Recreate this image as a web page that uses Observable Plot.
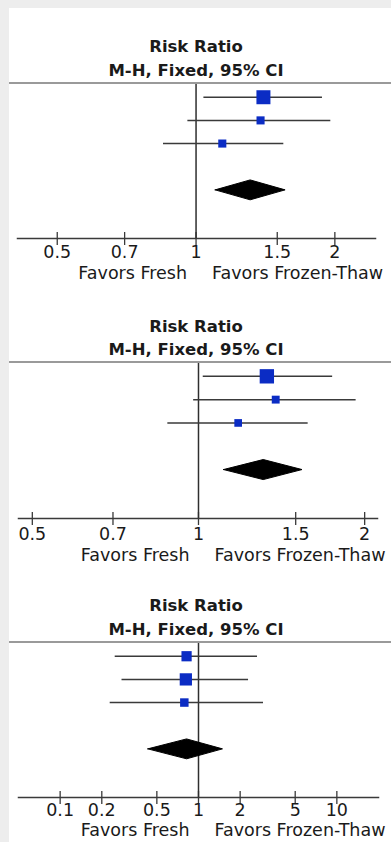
<!DOCTYPE html>
<html>
<head>
<meta charset="utf-8">
<script src="https://cdn.jsdelivr.net/npm/d3@7"></script>
<script src="https://cdn.jsdelivr.net/npm/@observablehq/plot@0.6"></script>
<style>
  html, body { margin: 0; padding: 0; }
  body { width: 391px; height: 842px; background: #ededed; position: relative; overflow: hidden; font-family: "DejaVu Sans", sans-serif; }
  #page { position: absolute; left: 9px; top: 8px; width: 382px; height: 834px; background: #fff; }
  .title { position: absolute; left: 9px; width: 374px; text-align: center; font-weight: bold; font-size: 16.5px; color: #1a1a1a; white-space: nowrap; }
  .rule { position: absolute; left: 9px; width: 382px; height: 2px; background: #9a9a9a; }
  .plot { position: absolute; left: 9px; }
  .plot svg { overflow: visible; }
</style>
</head>
<body>
<div id="page"></div>
<script>
// ---------- data ----------
const rows = [1, 2, 3];
const pooledRow = 5;

const titleLine1 = "Risk Ratio";
const titleLine2 = "M-H, Fixed, 95% CI";
const favorsLeft = "Favors Fresh";
const favorsRight = "Favors Frozen-Thaw";

// Panel 1
const p1Est = [1.40, 1.38, 1.14];
const p1Lo = [1.04, 0.96, 0.85];
const p1Hi = [1.88, 1.96, 1.55];
const p1Weight = [60, 20, 20];
const p1Pooled = [1.10, 1.31, 1.56]; // lo, est, hi
const p1Ticks = [0.5, 0.7, 1, 1.5, 2];
const p1Domain = [0.41, 2.45];

// Panel 2
const p2Est = [1.33, 1.38, 1.18];
const p2Lo = [1.02, 0.98, 0.88];
const p2Hi = [1.75, 1.93, 1.58];
const p2Weight = [63, 19, 18];
const p2Pooled = [1.11, 1.31, 1.54];
const p2Ticks = [0.5, 0.7, 1, 1.5, 2];
const p2Domain = [0.472, 2.11];

// Panel 3
const p3Est = [0.82, 0.81, 0.79];
const p3Lo = [0.25, 0.28, 0.23];
const p3Hi = [2.67, 2.30, 2.95];
const p3Weight = [32, 46, 22];
const p3Pooled = [0.43, 0.82, 1.49];
const p3Ticks = [0.1, 0.2, 0.5, 1, 2, 5, 10];
const p3Domain = [0.05, 20];

// ---------- drawing ----------
const panels = [
  {est: p1Est, lo: p1Lo, hi: p1Hi, w: p1Weight, pooled: p1Pooled, ticks: p1Ticks, domain: p1Domain,
   titleTop: 35, lineH: 24, ruleTop: 82, svgTop: 84, frameH: 154, mL: 8, mR: 16, tickDy: 14, favDy: 35},
  {est: p2Est, lo: p2Lo, hi: p2Hi, w: p2Weight, pooled: p2Pooled, ticks: p2Ticks, domain: p2Domain,
   titleTop: 315, lineH: 23, ruleTop: 361, svgTop: 363, frameH: 155, mL: 9, mR: 14, tickDy: 16, favDy: 37},
  {est: p3Est, lo: p3Lo, hi: p3Hi, w: p3Weight, pooled: p3Pooled, ticks: p3Ticks, domain: p3Domain,
   titleTop: 594, lineH: 24, ruleTop: 641, svgTop: 643, frameH: 154, mL: 9, mR: 13, tickDy: 13, favDy: 33}
];

const ink = "#1a1a1a";
const lineInk = "#3a3a3a";
const blue = "#0b2cc4";
const marginBottom = 52;
const diamondHalf = 0.43; // in row units
const fs = 17.5;

panels.forEach(p => {
  const t = document.createElement("div");
  t.className = "title";
  t.style.top = p.titleTop + "px";
  t.style.lineHeight = p.lineH + "px";
  t.innerHTML = `<div>${titleLine1}</div><div>${titleLine2}</div>`;
  document.body.appendChild(t);

  const r = document.createElement("div");
  r.className = "rule";
  r.style.top = p.ruleTop + "px";
  document.body.appendChild(r);

  const studies = rows.map((row, i) => ({row, est: p.est[i], lo: p.lo[i], hi: p.hi[i], w: p.w[i]}));
  const [plo, pest, phi] = p.pooled;
  const diamond = [
    {x: plo, y: pooledRow},
    {x: pest, y: pooledRow - diamondHalf},
    {x: phi, y: pooledRow},
    {x: pest, y: pooledRow + diamondHalf},
    {x: plo, y: pooledRow}
  ];

  const chart = Plot.plot({
    width: 382,
    height: p.frameH + marginBottom,
    marginTop: 0,
    marginBottom,
    marginLeft: p.mL,
    marginRight: p.mR,
    style: {fontFamily: "DejaVu Sans, sans-serif", background: "transparent", overflow: "visible"},
    x: {type: "log", domain: p.domain, axis: null},
    y: {domain: [0.45, 7.1], reverse: true, axis: null},
    r: {type: "sqrt", domain: [0, 100], range: [0, 10.2]},
    marks: [
      Plot.frame({anchor: "bottom", stroke: lineInk, strokeWidth: 1.5}),
      Plot.ruleX(p.ticks, {x: d => d, insetTop: p.frameH - 6, insetBottom: -7, stroke: lineInk, strokeWidth: 1.3}),
      Plot.ruleX([1], {stroke: "#2e2e2e", strokeWidth: 1.5}),
      Plot.ruleY(studies, {y: "row", x1: "lo", x2: "hi", stroke: lineInk, strokeWidth: 1.5}),
      Plot.dot(studies, {x: "est", y: "row", r: "w", symbol: "square", fill: blue, stroke: null}),
      Plot.line(diamond, {x: "x", y: "y", fill: "black", stroke: "black", strokeWidth: 1}),
      Plot.text(p.ticks, {x: d => d, text: d => String(d), frameAnchor: "bottom", lineAnchor: "middle",
                  dy: p.tickDy, fontSize: fs, fill: ink}),
      Plot.text([favorsLeft], {x: () => 1, text: d => d, frameAnchor: "bottom", lineAnchor: "middle",
                  dy: p.favDy, dx: -9, textAnchor: "end", fontSize: fs, fill: ink}),
      Plot.text([favorsRight], {x: () => 1, text: d => d, frameAnchor: "bottom", lineAnchor: "middle",
                  dy: p.favDy, dx: 16, textAnchor: "start", fontSize: fs, fill: ink})
    ]
  });
  const holder = document.createElement("div");
  holder.className = "plot";
  holder.style.top = p.svgTop + "px";
  holder.appendChild(chart);
  document.body.appendChild(holder);
});
</script>
</body>
</html>
